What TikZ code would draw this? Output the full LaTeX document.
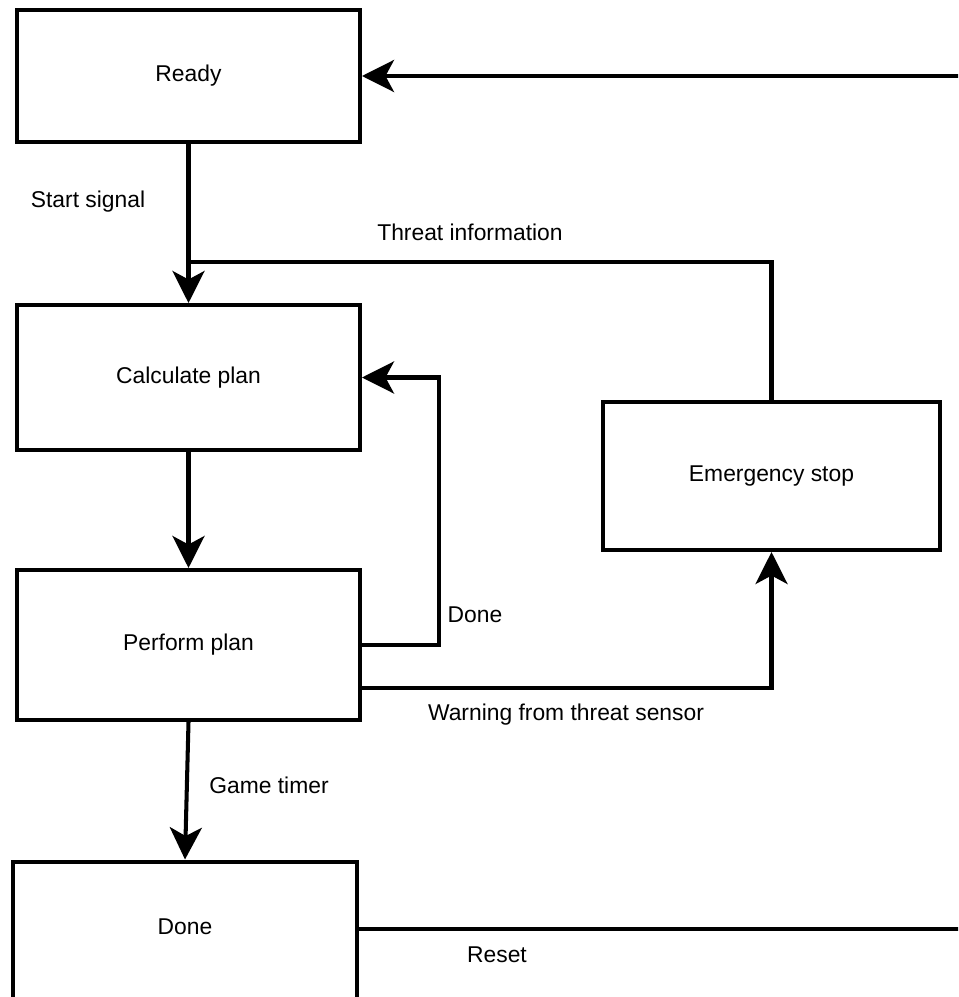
\documentclass[tikz,border=0pt]{standalone}
\usepackage{fontspec}
\setmainfont{Liberation Sans}
\usetikzlibrary{arrows.meta}

\begin{document}
\begin{tikzpicture}[x=0.02cm, y=-0.02cm,
		font=\fontsize{13}{15.6}\selectfont,
		state/.style={draw, line width=2.3pt, minimum width=6.86cm, inner sep=0pt},
		link/.style={line width=2.3pt},
		flow/.style={link, -{Stealth[length=6.4mm, width=6.4mm, inset=1.7mm]}}]
			%%%%% START %%%%%
			
			\useasboundingbox (0, 0) rectangle (958, 997);
			\clip (0, 0) rectangle (958, 997);
			
			\node[state, minimum height=2.64cm] (ready) at (188.5, 76) {Ready};
			\node[state, minimum height=2.9cm] (calc) at (188.5, 377.5) {Calculate plan};
			\node[state, minimum height=3cm] (perform) at (188.5, 645) {Perform plan};
			\node[state, minimum width=6.74cm, minimum height=2.96cm] (emergency) at (771.5, 476) {Emergency stop};
			\node[state, minimum width=6.88cm, minimum height=2.9cm, label={[yshift=0.14cm]center:Done}] (done) at (185, 934) {};
			
			\coordinate (join) at (189, 262);
			
			\draw[flow] (ready) -- (calc);
			\draw[link] (emergency.north) |- (join);
			\draw[flow] (calc) -- (perform);
			\draw[flow] (perform.east) -- ++(77, 0) |- (calc.east);
			\draw[flow] ([yshift=0.68cm]perform.south east) -| (emergency.south);
			\draw[flow] (perform.south) -- (done.north);
			\draw[flow] ([yshift=0.1cm]done.east) -- ++(700, 0) |- (ready.east);
			
			\node (startlbl) at (88, 202) {Start signal};
			\node (threatlbl) at (470, 232) {Threat information};
			\node (donelbl) at (475, 615) {Done};
			\node (warnlbl) at (566, 715) {Warning from threat sensor};
			\node (timerlbl) at (269, 785) {Game timer};
			\node (resetlbl) at (497, 955) {Reset};
			
			%%%%% END %%%%%
		\end{tikzpicture}
\end{document}
